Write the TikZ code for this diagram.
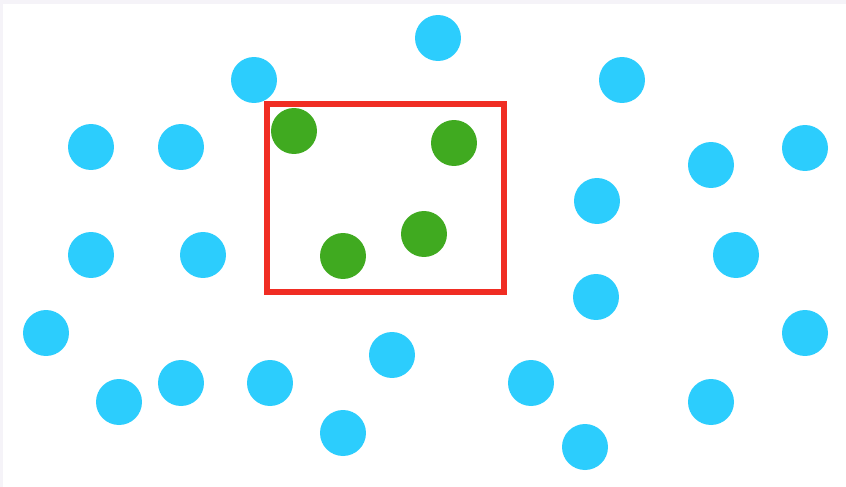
\documentclass[tikz,border=0pt]{standalone}
\usetikzlibrary{positioning}
\definecolor{dotblue}{RGB}{44,205,253}
\definecolor{dotgreen}{RGB}{64,170,32}
\definecolor{boxred}{RGB}{240,45,35}
\definecolor{edgegray}{RGB}{245,243,248}
\begin{document}
\begin{tikzpicture}[x=0.02cm,y=-0.02cm,d/.style={circle,inner sep=0pt,minimum size=0.92cm},bd/.style={d,fill=dotblue},gd/.style={d,fill=dotgreen},sel/.style={draw=boxred,line width=0.12cm}]
\fill[edgegray](0,0)rectangle(846,487);
\fill[white](3,4)rectangle(846,487);
\useasboundingbox(0,0)rectangle(846,487);
% blue points
\foreach \x/\y [count=\i] in {438/38,254/80,622/80,91/147,181/147,711/165,805/148,597/201,91/255,203/255,736/255,596/297,46/333,805/333,392/355,119/402,181/383,270/383,531/383,711/402,343/433,585/447}
  \node[bd](b\i) at (\x,\y){};
% selection box
\node[sel,inner sep=0pt,minimum width=4.74cm,minimum height=3.76cm](box) at (385.5,198){};
% green points
\foreach \x/\y [count=\i] in {294/131,454/143,424/234,343/256}
  \node[gd](g\i) at (\x,\y){};
\end{tikzpicture}
\end{document}
